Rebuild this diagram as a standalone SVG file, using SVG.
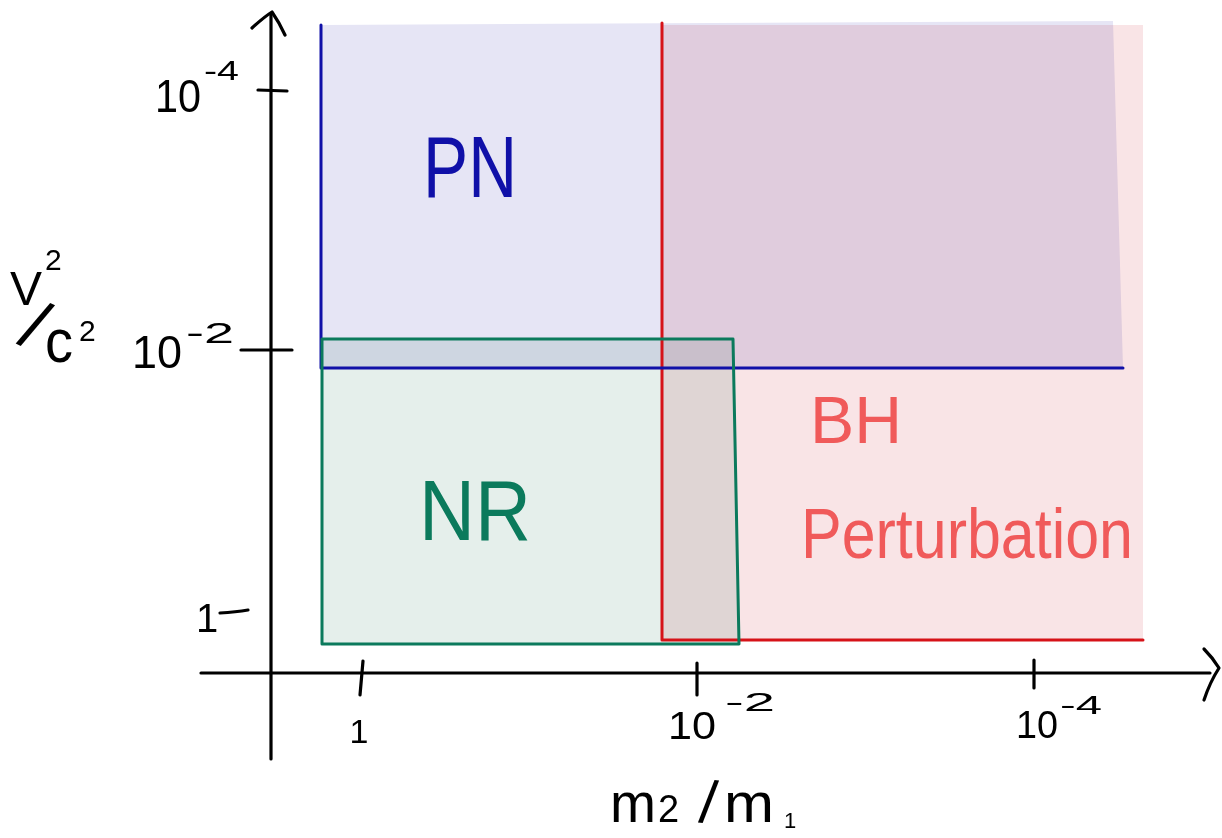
<svg xmlns="http://www.w3.org/2000/svg" width="1222" height="838" viewBox="0 0 1222 838">
<style>
.ax{stroke:#000;stroke-width:3.2;fill:none;stroke-linecap:round;stroke-linejoin:round}
.t{font-family:"Liberation Sans",Arial,sans-serif;fill:#000}
.mul{mix-blend-mode:multiply}
</style>
<rect width="1222" height="838" fill="#fff"/>
<g id="region-bh">
<polygon class="mul" points="662,25 1143,25 1143,640 662,640" fill="#f9e4e6"/>
</g>
<g id="region-pn">
<polygon class="mul" points="321,25 1113,21 1123,368 321,368" fill="#e6e5f5"/>
</g>
<g id="region-nr">
<polygon class="mul" points="322,339 733,339 739,644 322,644" fill="#e5efeb"/>
</g>
<g id="region-lines" fill="none" stroke-width="3" stroke-linecap="round" stroke-linejoin="round">
<polyline points="662,23 662,640 1143,640" stroke="#d61218"/>
<polyline points="321,25 321,368 1123,368" stroke="#1010a8"/>
<polygon points="322,339 733,339 739,644 322,644" stroke="#0b7a5c"/>
</g>
<g id="axes">
<path class="ax" d="M271,14 L271,759"/>
<path class="ax" d="M252,28 Q264,17 272,12 Q279,22 285,35"/>
<path class="ax" d="M201,673 L1210,673"/>
<path class="ax" d="M1204,649 Q1213,658 1219,668 Q1210,682 1204,700"/>
<path class="ax" d="M258,90 L287,91"/>
<path class="ax" d="M241,350 L292,350"/>
<path class="ax" d="M220,613 Q236,612 248,610"/>
<path class="ax" d="M363,661 L360,695"/>
<path class="ax" d="M697,663 L697,695"/>
<path class="ax" d="M1034,660 L1034,688"/>
</g>
<g id="axis-labels">
<text class="t"><tspan x="155" y="112" font-size="46" textLength="46" lengthAdjust="spacingAndGlyphs">10</tspan><tspan x="204" y="80" font-size="28" textLength="35" lengthAdjust="spacingAndGlyphs">-4</tspan></text>
<text class="t"><tspan x="132" y="368" font-size="46" textLength="50" lengthAdjust="spacingAndGlyphs">10</tspan><tspan x="186" y="343" font-size="30" textLength="48" lengthAdjust="spacingAndGlyphs">-2</tspan></text>
<text class="t" x="207" y="632" font-size="40" text-anchor="middle">1</text>
<text class="t" x="359" y="743" font-size="34" text-anchor="middle">1</text>
<text class="t"><tspan x="668" y="739" font-size="38" textLength="48" lengthAdjust="spacingAndGlyphs">10</tspan><tspan x="725" y="711" font-size="26" textLength="50" lengthAdjust="spacingAndGlyphs">-2</tspan></text>
<text class="t"><tspan x="1016" y="738" font-size="38" textLength="42" lengthAdjust="spacingAndGlyphs">10</tspan><tspan x="1060" y="714" font-size="26" textLength="42" lengthAdjust="spacingAndGlyphs">-4</tspan></text>
<text class="t"><tspan x="610" y="822" font-size="56" textLength="46" lengthAdjust="spacingAndGlyphs">m</tspan><tspan x="658" y="822" font-size="38">2</tspan><tspan x="698" y="822" font-size="60" rotate="6">/</tspan><tspan x="724" y="822" font-size="56" textLength="50" lengthAdjust="spacingAndGlyphs">m</tspan><tspan x="784" y="828" font-size="22">1</tspan></text>
<text class="t"><tspan x="10" y="305" font-size="48">V</tspan><tspan x="45" y="270" font-size="30">2</tspan><tspan x="16" y="343" font-size="70" rotate="25">/</tspan><tspan x="45" y="362" font-size="62" textLength="28" lengthAdjust="spacingAndGlyphs">c</tspan><tspan x="79" y="341" font-size="30">2</tspan></text>
</g>
<g id="region-labels">
<text class="t" x="423" y="197" font-size="88" style="fill:#1010a8" textLength="94" lengthAdjust="spacingAndGlyphs">PN</text>
<text class="t" x="419" y="540" font-size="86" style="fill:#0b7a5c" textLength="112" lengthAdjust="spacingAndGlyphs">NR</text>
<text class="t" x="810" y="443" font-size="66" style="fill:#f05a5a" textLength="92" lengthAdjust="spacingAndGlyphs">BH</text>
<text class="t" x="801" y="558" font-size="70" style="fill:#f05a5a" textLength="332" lengthAdjust="spacingAndGlyphs">Perturbation</text>
</g>
</svg>
